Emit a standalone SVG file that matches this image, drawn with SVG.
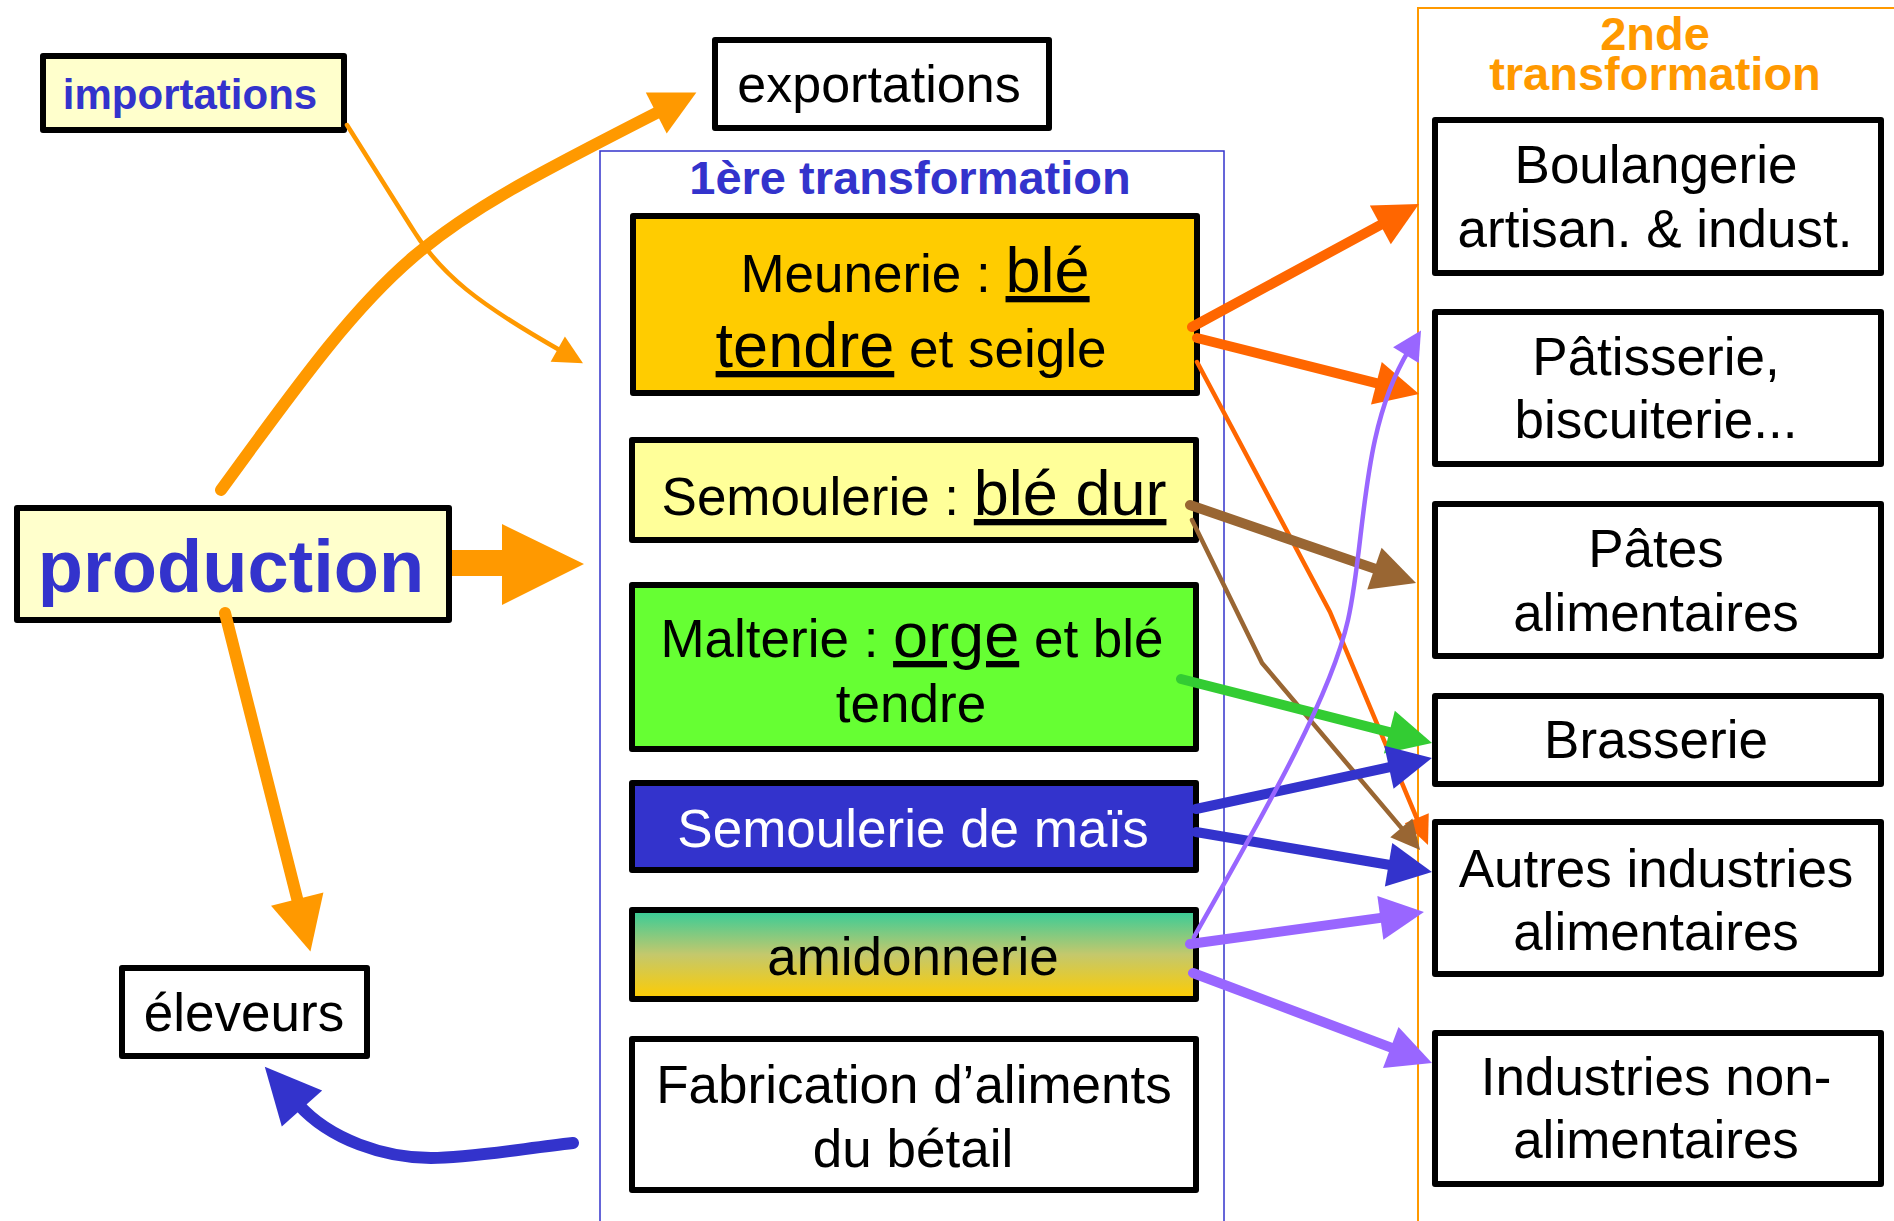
<svg xmlns="http://www.w3.org/2000/svg" width="1894" height="1221" viewBox="0 0 1894 1221">
<style>
.box{stroke:#000;stroke-width:6;stroke-linejoin:round}
.t{font-family:"Liberation Sans",Arial,sans-serif;font-size:53px;text-anchor:middle;fill:#000}
.b{font-weight:bold}
.u{font-size:63px;text-decoration:underline}
.c{fill:none;stroke-linecap:round}
.thick{stroke-width:10}
.thin{stroke-width:4.5}
.big{stroke-width:12}
</style>
<defs>
<linearGradient id="gAmid" x1="0" y1="0" x2="0" y2="1">
<stop offset="0" stop-color="#33CC99"/>
<stop offset="0.5" stop-color="#C4C86C"/>
<stop offset="1" stop-color="#FFCC00"/>
</linearGradient>
<marker id="mOr45" markerUnits="userSpaceOnUse" markerWidth="45" markerHeight="46" refX="6" refY="23" orient="auto" overflow="visible"><path d="M0,0 L45,23 L0,46 z" fill="#FF9900"/></marker>
<marker id="mOr54" markerUnits="userSpaceOnUse" markerWidth="54" markerHeight="54" refX="6" refY="27" orient="auto" overflow="visible"><path d="M0,0 L54,27 L0,54 z" fill="#FF9900"/></marker>
<marker id="mOr29" markerUnits="userSpaceOnUse" markerWidth="29" markerHeight="29" refX="6" refY="14.5" orient="auto" overflow="visible"><path d="M0,0 L29,14.5 L0,29 z" fill="#FF9900"/></marker>
<marker id="mRd44" markerUnits="userSpaceOnUse" markerWidth="44" markerHeight="44" refX="6" refY="22" orient="auto" overflow="visible"><path d="M0,0 L44,22 L0,44 z" fill="#FF6600"/></marker>
<marker id="mRd29" markerUnits="userSpaceOnUse" markerWidth="29" markerHeight="26" refX="6" refY="13" orient="auto" overflow="visible"><path d="M0,0 L29,13 L0,26 z" fill="#FF6600"/></marker>
<marker id="mBr44" markerUnits="userSpaceOnUse" markerWidth="44" markerHeight="44" refX="6" refY="22" orient="auto" overflow="visible"><path d="M0,0 L44,22 L0,44 z" fill="#996633"/></marker>
<marker id="mBr29" markerUnits="userSpaceOnUse" markerWidth="29" markerHeight="29" refX="6" refY="14.5" orient="auto" overflow="visible"><path d="M0,0 L29,14.5 L0,29 z" fill="#996633"/></marker>
<marker id="mGr44" markerUnits="userSpaceOnUse" markerWidth="44" markerHeight="44" refX="6" refY="22" orient="auto" overflow="visible"><path d="M0,0 L44,22 L0,44 z" fill="#33CC33"/></marker>
<marker id="mBl44" markerUnits="userSpaceOnUse" markerWidth="44" markerHeight="44" refX="6" refY="22" orient="auto" overflow="visible"><path d="M0,0 L44,22 L0,44 z" fill="#3333CC"/></marker>
<marker id="mBl56" markerUnits="userSpaceOnUse" markerWidth="56" markerHeight="54" refX="6" refY="27" orient="auto" overflow="visible"><path d="M0,0 L56,27 L0,54 z" fill="#3333CC"/></marker>
<marker id="mPu44" markerUnits="userSpaceOnUse" markerWidth="44" markerHeight="44" refX="6" refY="22" orient="auto" overflow="visible"><path d="M0,0 L44,22 L0,44 z" fill="#9966FF"/></marker>
<marker id="mPu29" markerUnits="userSpaceOnUse" markerWidth="29" markerHeight="30" refX="6" refY="15" orient="auto" overflow="visible"><path d="M0,0 L29,15 L0,30 z" fill="#9966FF"/></marker>
</defs>
<rect width="1894" height="1221" fill="#FFFFFF"/>

<g id="container-1ere">
<rect x="600" y="151" width="624" height="1120" fill="none" stroke="#3333CC" stroke-width="1.5"/>
<text class="t b" x="910" y="194" style="font-size:47px;fill:#3333CC">1ère transformation</text>
</g>
<g id="container-2nde">
<rect x="1418" y="8" width="520" height="1260" fill="none" stroke="#FF9900" stroke-width="2"/>
<text class="t b" x="1655" y="50" style="font-size:47px;fill:#FF9900"><tspan x="1655" y="50">2nde</tspan><tspan x="1655" y="90">transformation</tspan></text>
</g>

<g id="importations">
<rect class="box" x="43" y="56" width="301" height="74" fill="#FFFFCC"/>
<text class="t b" x="190" y="109" style="font-size:42px;fill:#3333CC">importations</text>
</g>
<g id="exportations">
<rect class="box" x="715" y="40" width="334" height="88" fill="#FFFFFF"/>
<text class="t" x="879" y="102" style="font-size:52px">exportations</text>
</g>
<g id="production">
<rect class="box" x="17" y="508" width="432" height="112" fill="#FFFFCC"/>
<text class="t b" x="231" y="592" style="font-size:74px;fill:#3333CC">production</text>
</g>
<g id="eleveurs">
<rect class="box" x="122" y="968" width="245" height="88" fill="#FFFFFF"/>
<text class="t" x="244" y="1031">éleveurs</text>
</g>

<g id="meunerie">
<rect class="box" x="633" y="216" width="564" height="177" fill="#FFCC00"/>
<text class="t" x="915" y="292">Meunerie : <tspan class="u">blé</tspan></text>
<text class="t" x="911" y="367"><tspan class="u">tendre</tspan> et seigle</text>
</g>
<g id="semoulerie">
<rect class="box" x="632" y="440" width="564" height="100" fill="#FFFF99"/>
<text class="t" x="914" y="515">Semoulerie : <tspan class="u">blé dur</tspan></text>
</g>
<g id="malterie">
<rect class="box" x="632" y="585" width="564" height="164" fill="#66FF33"/>
<text class="t" x="912" y="657">Malterie : <tspan class="u">orge</tspan> et blé</text>
<text class="t" x="911" y="722">tendre</text>
</g>
<g id="semoulerie-mais">
<rect class="box" x="632" y="783" width="564" height="87" fill="#3333CC"/>
<text class="t" x="913" y="847" style="fill:#FFFFFF">Semoulerie de maïs</text>
</g>
<g id="amidonnerie">
<rect class="box" x="632" y="910" width="564" height="89" fill="url(#gAmid)"/>
<text class="t" x="913" y="975">amidonnerie</text>
</g>
<g id="fabrication">
<rect class="box" x="632" y="1039" width="564" height="151" fill="#FFFFFF"/>
<text class="t" x="914" y="1103">Fabrication d’aliments</text>
<text class="t" x="913" y="1167">du bétail</text>
</g>

<g id="boulangerie">
<rect class="box" x="1435" y="120" width="446" height="153" fill="#FFFFFF"/>
<text class="t" x="1656" y="183">Boulangerie</text>
<text class="t" x="1655" y="247">artisan. &amp; indust.</text>
</g>
<g id="patisserie">
<rect class="box" x="1435" y="312" width="446" height="152" fill="#FFFFFF"/>
<text class="t" x="1656" y="375">Pâtisserie,</text>
<text class="t" x="1656" y="438">biscuiterie...</text>
</g>
<g id="pates">
<rect class="box" x="1435" y="504" width="446" height="152" fill="#FFFFFF"/>
<text class="t" x="1656" y="567">Pâtes</text>
<text class="t" x="1656" y="631">alimentaires</text>
</g>
<g id="brasserie">
<rect class="box" x="1435" y="696" width="446" height="88" fill="#FFFFFF"/>
<text class="t" x="1656" y="758">Brasserie</text>
</g>
<g id="autres">
<rect class="box" x="1435" y="822" width="446" height="152" fill="#FFFFFF"/>
<text class="t" x="1656" y="887">Autres industries</text>
<text class="t" x="1656" y="950">alimentaires</text>
</g>
<g id="industries-non">
<rect class="box" x="1435" y="1033" width="446" height="151" fill="#FFFFFF"/>
<text class="t" x="1656" y="1095">Industries non-</text>
<text class="t" x="1656" y="1158">alimentaires</text>
</g>

<g id="connectors">
<polygon points="452,550 502,550 502,524 584,564 502,605 502,576 452,576" fill="#FF9900"/>
<path class="c big" d="M221,490 C397,247 411,238 661.6,110.3" stroke="#FF9900" marker-end="url(#mOr45)"/>
<path class="c big" d="M225,613 L298.7,904.9" stroke="#FF9900" marker-end="url(#mOr54)"/>
<path class="c big" d="M573,1143 C520,1149 470,1158 431,1158 C385,1158 330,1140 298,1104" stroke="#3333CC" marker-end="url(#mBl56)"/>
<path class="c thin" d="M347,125 L410,225 C440,275 480,305 563,352" stroke="#FF9900" marker-end="url(#mOr29)"/>
<path class="c thick" d="M1192,327 L1385.6,222.1" stroke="#FF6600" marker-end="url(#mRd44)"/>
<path class="c thick" d="M1197,338 L1382.2,384.7" stroke="#FF6600" marker-end="url(#mRd44)"/>
<path class="c thin" d="M1197,362 L1330,612 L1419.1,823.8" stroke="#FF6600" stroke-linejoin="round" marker-end="url(#mRd29)"/>
<path class="c thick" d="M1190,505 L1380.1,570.6" stroke="#996633" marker-end="url(#mBr44)"/>
<path class="c thin" d="M1192,520 L1262,663 L1405.2,832.4" stroke="#996633" stroke-linejoin="round" marker-end="url(#mBr29)"/>
<path class="c thick" d="M1181,679 L1395.2,733.6" stroke="#33CC33" marker-end="url(#mGr44)"/>
<path class="c thick" d="M1196,809 L1394.8,766" stroke="#3333CC" marker-end="url(#mBl44)"/>
<path class="c thick" d="M1196,832 L1394.5,865.7" stroke="#3333CC" marker-end="url(#mBl44)"/>
<path class="c thin" d="M1194,937 C1260,820 1330,700 1348,620 C1366,540 1360,430 1409,350" stroke="#9966FF" marker-end="url(#mPu29)"/>
<path class="c thick" d="M1190,944 L1386.3,917.1" stroke="#9966FF" marker-end="url(#mPu44)"/>
<path class="c thick" d="M1193,973 L1396.4,1049.6" stroke="#9966FF" marker-end="url(#mPu44)"/>
</g>
</svg>
